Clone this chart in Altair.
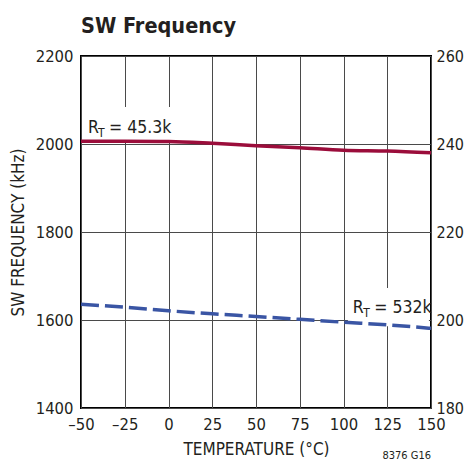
import altair as alt
import pandas as pd

temps = [-50, -25, 0, 25, 50, 75, 100, 125, 150]
freq_45k = [2006, 2006, 2005.5, 2001.5, 1996, 1991.5, 1986, 1984, 1980]
freq_532k = [203.6, 202.9, 202.1, 201.4, 200.8, 200.15, 199.5, 198.9, 198.1]

left_ticks = [1400, 1600, 1800, 2000, 2200]
right_ticks = [180, 200, 220, 240, 260]
x_ticks = [-50, -25, 0, 25, 50, 75, 100, 125, 150]

# label pieces (temperature, left-axis frequency, text, size)
lab_x = [-46, -40.3, -34.0, 105.3, 111.3, 117.6]
lab_y = [2025, 2016, 2025, 1615, 1606, 1615]
lab_t = ["R", "T", "= 45.3k", "R", "T", "= 532k"]
lab_s = [17.5, 12, 17.5, 17.5, 12, 17.5]

# white boxes behind labels (temperature/frequency extents)
box_x1 = [-48.5, 102.5]
box_x2 = [1.2, 148.8]
box_y1 = [2009, 1586]
box_y2 = [2084, 1673]

FONT = "DejaVu Sans Condensed, Liberation Sans Narrow, sans-serif"
TXT = "#231f20"
RED = "#9b0d3b"
BLUE = "#3a55a4"

df_red = pd.DataFrame({"t": temps, "f": freq_45k})
df_blue = pd.DataFrame({"t": temps, "f": freq_532k})
df_lab = pd.DataFrame({"t": lab_x, "f": lab_y, "txt": lab_t, "s": lab_s})
df_box = pd.DataFrame({"t": box_x1, "t2": box_x2, "f": box_y1, "f2": box_y2})
df_note = pd.DataFrame({"t": [150], "txt": ["8376 G16"]})
df_title = pd.DataFrame({"t": [-50], "txt": ["SW Frequency"]})

xscale = alt.Scale(domain=[-50, 150], nice=False, zero=False)
xaxis = alt.Axis(values=x_ticks, title="TEMPERATURE (°C)", grid=True, labelFlush=False,
                 labelExpr="datum.value < 0 ? '–' + abs(datum.value) : datum.value",
                 labelPadding=8, titlePadding=9)
lscale = alt.Scale(domain=[1400, 2200], nice=False, zero=False)
laxis = alt.Axis(values=left_ticks, title="SW FREQUENCY (kHz)", grid=True, format="d",
                 labelPadding=8, titlePadding=8, orient="left")
rscale = alt.Scale(domain=[180, 260], nice=False, zero=False)
raxis = alt.Axis(values=right_ticks, title=None, grid=False, orient="right",
                 format="d", labelPadding=5, labelFontSize=16)

X = alt.X("t:Q", scale=xscale, axis=xaxis)
Y = alt.Y("f:Q", scale=lscale, axis=laxis)

boxes = alt.Chart(df_box).mark_rect(fill="white", stroke=None).encode(
    x=X, x2="t2:Q", y=Y, y2="f2:Q")

red = alt.Chart(df_red).mark_line(color=RED, strokeWidth=3.5, interpolate="monotone").encode(
    x=X, y=Y)

labels = alt.Chart(df_lab).mark_text(align="left", baseline="alphabetic", font=FONT,
                                      color=TXT).encode(
    x=X, y=Y, text="txt:N", size=alt.Size("s:Q", scale=None, legend=None))

note = alt.Chart(df_note).mark_text(align="right", baseline="alphabetic", font=FONT,
                                    fontSize=11, color=TXT).encode(
    x=X, y=alt.value(403), text="txt:N")

title = alt.Chart(df_title).mark_text(align="left", baseline="alphabetic", font=FONT,
                                      fontSize=21.5, fontWeight="bold", color=TXT).encode(
    x=X, y=alt.value(-23), text="txt:N")

left_layer = alt.layer(boxes, red, labels, note, title)

blue = alt.Chart(df_blue).mark_line(color=BLUE, strokeWidth=3.5, strokeDash=[18, 6],
                                    interpolate="monotone").encode(
    x=X, y=alt.Y("f:Q", scale=rscale, axis=raxis))

chart = alt.layer(left_layer, blue).resolve_scale(y="independent").properties(
    width=350, height=352,
    autosize=alt.AutoSizeParams(type="none"),
    padding={"left": 73, "top": 48, "right": 33, "bottom": 55},
).configure_view(stroke="black", strokeWidth=2).configure_axis(
    labelFont=FONT, titleFont=FONT, labelFontSize=16.5, titleFontSize=17,
    labelColor=TXT, titleColor=TXT, titleFontWeight="normal",
    ticks=False, domain=False, gridColor="#4a4a4a", gridWidth=1, gridOpacity=1
)

chart.save("out.html", embed_options={"renderer": "svg", "actions": False})
